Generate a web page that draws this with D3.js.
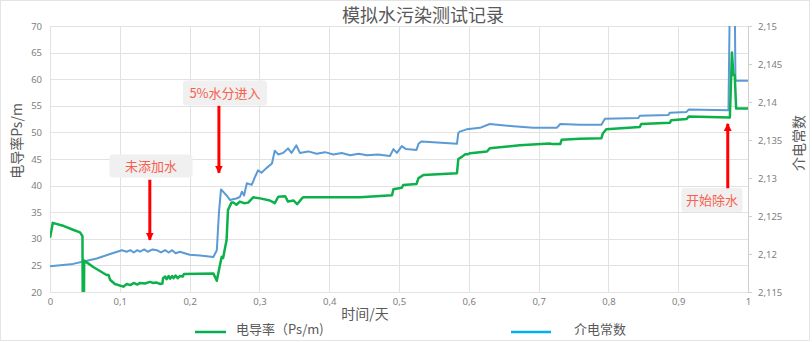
<!DOCTYPE html>
<html>
<head>
<meta charset="utf-8">
<script src="https://cdn.jsdelivr.net/npm/d3@7"></script>
<style>
  body { margin: 0; background: #fff; }
  svg text { font-family: "Noto Sans CJK SC", "Noto Sans", sans-serif; }
  .tick text { font-family: "Noto Sans", "DejaVu Sans", sans-serif; font-size: 9.5px; fill: #808080; }
</style>
</head>
<body>
<div id="chart"></div>
<script>
// 电导率 (left axis, Ps/m)
var condTime = [0, 0.002, 0.004, 0.02, 0.033, 0.043, 0.0465, 0.047, 0.0485, 0.049, 0.062, 0.081, 0.084, 0.086, 0.093,
    0.105, 0.11, 0.115, 0.12, 0.125, 0.129, 0.136, 0.143, 0.148, 0.152, 0.158, 0.161, 0.162, 0.165, 0.167, 0.17,
    0.172, 0.175, 0.177, 0.18, 0.183, 0.186, 0.19, 0.192, 0.234,
    0.239, 0.244, 0.246, 0.248, 0.253, 0.255, 0.26, 0.263, 0.267, 0.272, 0.278, 0.284, 0.291, 0.301, 0.315, 0.322,
    0.327, 0.337, 0.341, 0.349, 0.354, 0.361, 0.363, 0.444, 0.49, 0.492, 0.504, 0.506, 0.525, 0.528, 0.535, 0.583,
    0.585, 0.59, 0.595, 0.599, 0.602, 0.626, 0.63, 0.673, 0.716, 0.72, 0.731, 0.733, 0.759, 0.79, 0.792, 0.797,
    0.845, 0.847, 0.888, 0.89, 0.912, 0.915, 0.974, 0.977, 0.979, 0.981, 0.983, 1.0];
var condValue = [30.2, 31.5, 33.0, 32.4, 31.7, 31.2, 30.5, 16, 16, 25.9, 24.7, 23.2, 23.2, 22.3, 21.5,
    21.0, 21.5, 21.3, 21.7, 21.4, 21.7, 21.6, 21.9, 21.7, 21.8, 21.5, 21.6, 22.6, 22.9, 22.4, 23.0,
    22.5, 23.0, 22.6, 23.1, 22.6, 23.0, 22.9, 23.4, 23.5,
    22.1, 25.4, 26.6, 26.4, 29.8, 35.4, 36.8, 36.8, 36.4, 37.0, 36.7, 36.8, 37.8, 37.6, 37.2, 36.7,
    37.9, 38.0, 37.0, 37.2, 36.5, 37.6, 37.8, 37.8, 38.2, 39.3, 39.6, 40.1, 40.3, 41.4, 42.0, 42.3,
    45.0, 45.4, 45.9, 45.9, 46.1, 46.4, 47.0, 47.6, 47.9, 47.8, 47.8, 48.6, 48.8, 48.9, 49.8, 50.6,
    51.0, 51.6, 51.8, 52.3, 52.5, 53.0, 52.8, 65.0, 60.8, 60.8, 54.5, 54.5];

// 介电常数 (right axis)
var dielTime = [0, 0.033, 0.048, 0.067, 0.086, 0.103, 0.11, 0.115, 0.12, 0.125, 0.129, 0.135, 0.14, 0.147, 0.153,
    0.159, 0.165, 0.17, 0.175, 0.18, 0.186,
    0.2, 0.215, 0.234, 0.239, 0.242, 0.245, 0.248, 0.253, 0.258, 0.262, 0.267, 0.272, 0.275, 0.278, 0.282, 0.289,
    0.294, 0.298, 0.303, 0.31, 0.318, 0.322, 0.327, 0.334, 0.341, 0.346, 0.353, 0.358, 0.37, 0.382, 0.394, 0.406,
    0.418, 0.43, 0.442, 0.454, 0.47,
    0.487, 0.492, 0.497, 0.504, 0.51, 0.525, 0.528, 0.532, 0.583, 0.585, 0.587, 0.597, 0.616, 0.63, 0.664, 0.692,
    0.726, 0.731, 0.759, 0.79, 0.795, 0.843, 0.845, 0.886, 0.888, 0.912, 0.915, 0.972, 0.974, 0.981, 0.982, 1.0];
var dielValue = [2.1184, 2.1187, 2.119, 2.1194, 2.12, 2.1205, 2.1203, 2.1205, 2.1202, 2.1205, 2.1203, 2.1206, 2.1203, 2.1206, 2.1205,
    2.1202, 2.1205, 2.1202, 2.1205, 2.1201, 2.1203,
    2.1199, 2.1198, 2.1196, 2.1205, 2.1254, 2.1285, 2.1282, 2.1277, 2.1271, 2.1272, 2.1273, 2.1275, 2.1282, 2.1277, 2.1293, 2.1291,
    2.1302, 2.131, 2.1307, 2.1313, 2.1319, 2.1336, 2.1331, 2.1333, 2.1339, 2.1333, 2.1343, 2.1333, 2.1335, 2.1332, 2.1334, 2.1331,
    2.1333, 2.1330, 2.1332, 2.1330, 2.1331,
    2.1329, 2.1338, 2.1333, 2.1342, 2.1338, 2.1337, 2.1345, 2.1348, 2.1345, 2.1359, 2.1361, 2.1364, 2.1366, 2.1371, 2.1368, 2.1366,
    2.1366, 2.1371, 2.137, 2.137, 2.1378, 2.1379, 2.1382, 2.1383, 2.1386, 2.1387, 2.139, 2.1389, 2.1535, 2.1535, 2.1428, 2.1428];

var leftTicks = [20, 25, 30, 35, 40, 45, 50, 55, 60, 65, 70];
var rightTicks = [2.115, 2.12, 2.125, 2.13, 2.135, 2.14, 2.145, 2.15];
var xTicks = [0, 0.1, 0.2, 0.3, 0.4, 0.5, 0.6, 0.7, 0.8, 0.9, 1];

// callouts: label, time, arrow start / end in left-axis units
var noteLabels = ['未添加水', '5%水分进入', '开始除水'];
var noteTime = [0.143, 0.242, 0.971];
var noteFrom = [41.1, 55.0, 39.5];
var noteTo = [29.8, 42.4, 51.6];

var W = 812, H = 342;
var green = '#0cb14b', blue = '#5b9bd5';

var svg = d3.select('#chart').append('svg')
    .attr('width', W).attr('height', H);

svg.append('rect')
    .attr('x', 0.5).attr('y', 0.5)
    .attr('width', 809).attr('height', 340)
    .attr('fill', '#fff').attr('stroke', '#e4e4e4');

var x = d3.scaleLinear().domain([0, 1]).range([50, 748]);
var yL = d3.scaleLinear().domain([20, 70]).range([292, 26]);
var yR = d3.scaleLinear().domain([2.115, 2.15]).range([292, 26]);

var fmt = (d) => d3.format('~f')(+d.toFixed(3)).replace('.', ',');

// grid
var grid = svg.append('g').attr('stroke', '#e2e2e2').attr('stroke-width', 1);
grid.selectAll('.hg').data(leftTicks).enter().append('line')
    .attr('x1', x(0)).attr('x2', x(1))
    .attr('y1', (d) => Math.round(yL(d)) + 0.5).attr('y2', (d) => Math.round(yL(d)) + 0.5);
grid.selectAll('.vg').data(xTicks).enter().append('line')
    .attr('y1', yL(70)).attr('y2', yL(20))
    .attr('x1', (d) => Math.round(x(d)) + 0.5).attr('x2', (d) => Math.round(x(d)) + 0.5);

// axes
svg.append('g')
    .attr('transform', `translate(${x(0)},0)`)
    .call(d3.axisLeft(yL).tickValues(leftTicks).tickSize(0).tickPadding(8).tickFormat(fmt))
    .call((g) => g.select('.domain').remove());

svg.append('g')
    .attr('transform', `translate(${x(1)},0)`)
    .call(d3.axisRight(yR).tickValues(rightTicks).tickSize(4).tickPadding(6).tickFormat(fmt))
    .call((g) => g.select('.domain').attr('stroke', '#cfcfcf'))
    .call((g) => g.selectAll('.tick line').attr('stroke', '#cfcfcf'));

svg.append('g')
    .attr('transform', `translate(0,${yL(20)})`)
    .call(d3.axisBottom(x).tickValues(xTicks).tickSize(0).tickPadding(6).tickFormat(fmt))
    .call((g) => g.select('.domain').remove());

// lines
svg.append('clipPath').attr('id', 'plot')
    .append('rect').attr('x', x(0)).attr('y', yL(70))
    .attr('width', x(1) - x(0)).attr('height', yL(20) - yL(70));

var plot = svg.append('g').attr('clip-path', 'url(#plot)');

var dielData = dielTime.map((t, i) => [t, dielValue[i]]);
var condData = condTime.map((t, i) => [t, condValue[i]]);

plot.append('path')
    .datum(dielData)
    .attr('fill', 'none').attr('stroke', blue).attr('stroke-width', 2)
    .attr('stroke-linejoin', 'round')
    .attr('d', d3.line().x((d) => x(d[0])).y((d) => yR(d[1])));

plot.append('path')
    .datum(condData)
    .attr('fill', 'none').attr('stroke', green).attr('stroke-width', 2.5)
    .attr('stroke-linejoin', 'round')
    .attr('d', d3.line().x((d) => x(d[0])).y((d) => yL(d[1])));

// title & axis titles
svg.append('text')
    .attr('x', 423).attr('y', 22)
    .attr('text-anchor', 'middle')
    .style('font-size', '18px').style('fill', '#595959')
    .text('模拟水污染测试记录');

svg.append('text')
    .attr('transform', 'translate(22,141)rotate(-90)')
    .attr('text-anchor', 'middle')
    .style('font-size', '14px').style('fill', '#595959')
    .text('电导率Ps/m');

svg.append('text')
    .attr('transform', 'translate(804,143)rotate(-90)')
    .attr('text-anchor', 'middle')
    .style('font-size', '14px').style('fill', '#595959')
    .text('介电常数');

svg.append('text')
    .attr('x', 365).attr('y', 319)
    .attr('text-anchor', 'middle')
    .style('font-size', '14px').style('fill', '#595959')
    .text('时间/天');

// legend
var legend = svg.append('g');
legend.append('line').attr('x1', 195).attr('x2', 226).attr('y1', 332).attr('y2', 332)
    .attr('stroke', '#00b050').attr('stroke-width', 2.5);
legend.append('text').attr('x', 236).attr('y', 334)
    .style('font-size', '13px').style('fill', '#595959')
    .text('电导率（Ps/m)');
legend.append('line').attr('x1', 511).attr('x2', 551).attr('y1', 332).attr('y2', 332)
    .attr('stroke', '#00b0f0').attr('stroke-width', 2.5);
legend.append('text').attr('x', 574).attr('y', 334)
    .style('font-size', '13px').style('fill', '#595959')
    .text('介电常数');

// callouts
svg.append('defs').append('marker')
    .attr('id', 'head').attr('viewBox', '0 0 10 10')
    .attr('refX', 9).attr('refY', 5)
    .attr('markerWidth', 2.6).attr('markerHeight', 2.6)
    .attr('orient', 'auto')
    .append('path').attr('d', 'M0,0L10,5L0,10Z').attr('fill', '#ff0000');

var notes = svg.append('g').selectAll('g').data(noteLabels).enter().append('g');

notes.append('line')
    .attr('x1', (d, i) => x(noteTime[i])).attr('x2', (d, i) => x(noteTime[i]))
    .attr('y1', (d, i) => yL(noteFrom[i])).attr('y2', (d, i) => yL(noteTo[i]))
    .attr('stroke', '#ff0000').attr('stroke-width', 3)
    .attr('marker-end', 'url(#head)');

var boxes = [
    {cx: 151, cy: 166, w: 83, h: 23},
    {cx: 225, cy: 93, w: 84, h: 25},
    {cx: 712, cy: 200, w: 61, h: 24}
];

notes.insert('rect', 'line')
    .attr('x', (d, i) => boxes[i].cx - boxes[i].w / 2)
    .attr('y', (d, i) => boxes[i].cy - boxes[i].h / 2)
    .attr('width', (d, i) => boxes[i].w)
    .attr('height', (d, i) => boxes[i].h)
    .attr('rx', 3)
    .attr('fill', '#f0f0f0');

notes.append('text')
    .attr('x', (d, i) => boxes[i].cx)
    .attr('y', (d, i) => boxes[i].cy + 5)
    .attr('text-anchor', 'middle')
    .style('font-size', '13px').style('fill', '#f7604f')
    .text((d) => d);
</script>
</body>
</html>
